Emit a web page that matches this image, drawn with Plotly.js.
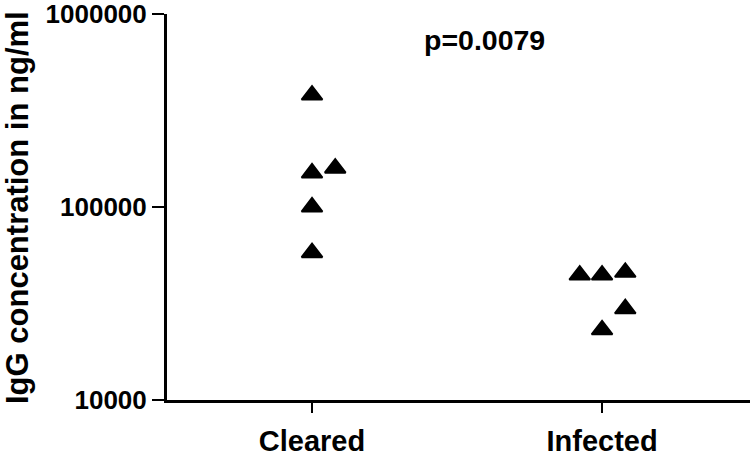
<!DOCTYPE html>
<html>
<head>
<meta charset="utf-8">
<script src="https://cdn.plot.ly/plotly-3.0.1.min.js"></script>
<style>
  html, body { margin: 0; padding: 0; background: #fff; }
  #chart { width: 750px; height: 457px; }
</style>
</head>
<body>
<div id="chart"></div>
<script>
// groups on the x axis
const groups = ['Cleared', 'Infected'];

// IgG concentration (ng/ml) per animal
const clearedValues = [380000, 150000, 159000, 100000, 58000];
const infectedValues = [44400, 44400, 45900, 29700, 23100];

// horizontal scatter of overlapping points, in group units
const clearedJitter = [0, 0, 0.08, 0, 0];
const infectedJitter = [-0.077, 0, 0.08, 0.08, 0];

const yTicks = [10000, 100000, 1000000];
const yTitle = 'IgG concentration in ng/ml';
const pLabel = 'p=0.0079';

const font = { family: 'Arial, "Liberation Sans", sans-serif', color: '#000', weight: 'bold' };

function groupTrace(idx, values, jitter) {
  return {
    x: values.map((_, i) => idx + jitter[i]),
    y: values,
    type: 'scatter',
    mode: 'markers',
    name: groups[idx],
    marker: { symbol: 'triangle-up', size: 18, color: '#000', line: { color: '#000', width: 2 } },
    hoverinfo: 'y'
  };
}

const traces = [
  groupTrace(0, clearedValues, clearedJitter),
  groupTrace(1, infectedValues, infectedJitter)
];

const layout = {
  width: 750, height: 457,
  margin: { l: 167, r: 0, t: 14, b: 57 },
  showlegend: false,
  paper_bgcolor: '#fff', plot_bgcolor: '#fff',
  font: font,
  xaxis: {
    range: [-0.5, 1.51],
    tickvals: groups.map((_, i) => i),
    ticktext: groups,
    ticks: 'outside', ticklen: 10, tickwidth: 2.5, tickcolor: '#000',
    ticklabelstandoff: 3,
    showline: true, linecolor: '#000', linewidth: 3,
    showgrid: false, zeroline: false,
    tickfont: Object.assign({}, font, { size: 29 })
  },
  yaxis: {
    type: 'log',
    range: [4, 6],
    tickvals: yTicks,
    ticktext: yTicks.map(String),
    ticks: 'outside', ticklen: 12, tickwidth: 2.5, tickcolor: '#000',
    ticklabeloverflow: 'allow',
    showline: true, linecolor: '#000', linewidth: 3,
    showgrid: false, zeroline: false,
    tickfont: Object.assign({}, font, { size: 26 })
  },
  annotations: [{
    text: yTitle,
    xref: 'paper', yref: 'paper',
    x: -0.2573, y: 0.5,
    xanchor: 'center', yanchor: 'middle',
    textangle: -90,
    showarrow: false,
    font: Object.assign({}, font, { size: 31 })
  }, {
    text: pLabel,
    xref: 'paper', yref: 'paper',
    x: 0.544, y: 0.932,
    xanchor: 'center', yanchor: 'middle',
    showarrow: false,
    font: Object.assign({}, font, { size: 28.5 })
  }]
};

Plotly.newPlot('chart', traces, layout, { displayModeBar: false, staticPlot: true });
</script>
</body>
</html>
